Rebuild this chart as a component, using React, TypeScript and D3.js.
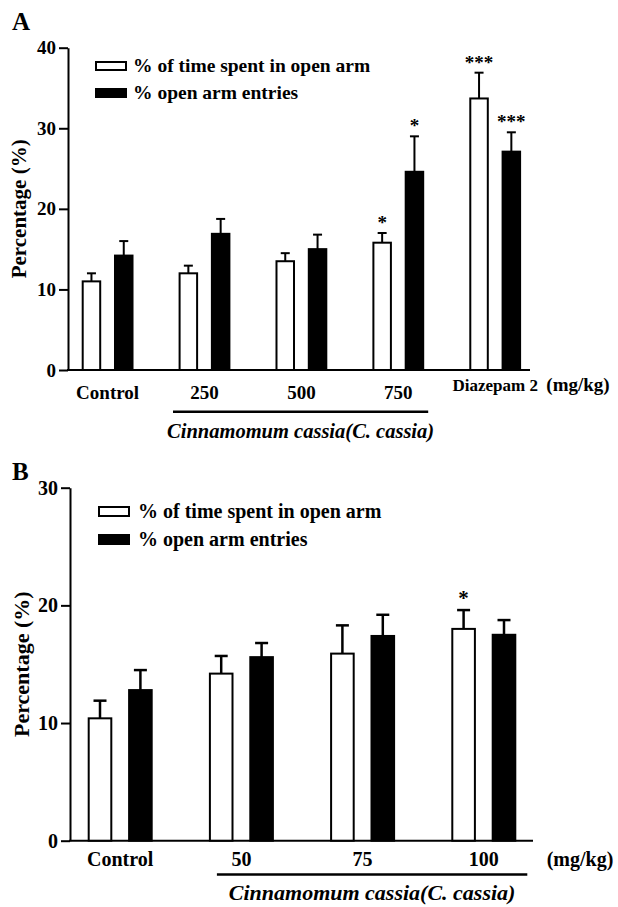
import React, { useRef, useEffect } from 'react'
import * as d3 from 'd3'

// panel A: Cinnamomum cassia doses + diazepam
const catsA = ['Control', '250', '500', '750', 'Diazepam 2']
const timeA = [11.0, 12.0, 13.5, 15.8, 33.7]
const timeErrA = [1.0, 0.95, 1.0, 1.2, 3.2]
const entriesA = [14.2, 16.9, 15.0, 24.6, 27.1]
const entriesErrA = [1.8, 1.85, 1.8, 4.4, 2.4]
const timeSigA = ['', '', '', '*', '***']
const entriesSigA = ['', '', '', '*', '***']
const ticksA = [0, 10, 20, 30, 40]

// panel B: lower doses
const catsB = ['Control', '50', '75', '100']
const timeB = [10.4, 14.2, 15.9, 18.0]
const timeErrB = [1.5, 1.5, 2.4, 1.6]
const entriesB = [12.8, 15.6, 17.4, 17.5]
const entriesErrB = [1.7, 1.2, 1.8, 1.25]
const timeSigB = ['', '', '', '*']
const entriesSigB = ['', '', '', '']
const ticksB = [0, 10, 20, 30]

const legendLabels = ['% of time spent in open arm', '% open arm entries']
const groupLabel = 'Cinnamomum cassia(C. cassia)'
const unitLabel = '(mg/kg)'
const yTitle = 'Percentage (%)'

const FONT = 'Liberation Serif, Tinos, Times New Roman, DejaVu Serif, serif'

const layoutA = {
  letter: 'A', letterY: 30,
  x0: 68, xEnd: 530, y0: 370, yTop: 47.7,
  firstBar: 81.7, lastBar: 521.1, pad: 0.396,
  tick: 9, tickFont: 19, cap: 9, errW: 2,
  labelY: 399, labelFont: 19, smallLabelY: 391, smallFont: 17,
  unitX: 578, unitY: 391,
  lineY: 411.7, lineL: -5.6, lineR: 4, groupTextY: 438, groupFont: 20.5,
  legX: 95, legY: [61, 88], legW: 32, legH: 10, legTextX: 133, legFont: 19.5,
  titleX: 19, titleFont: 21,
  starGap: 4, starFont: 19,
}

const layoutB = {
  letter: 'B', letterY: 480,
  x0: 70, xEnd: 533, y0: 840.7, yTop: 487.7,
  firstBar: 87.7, lastBar: 516.3, pad: 0.391,
  tick: 9, tickFont: 20, cap: 13, errW: 2.5,
  labelY: 866, labelFont: 20, smallLabelY: 866, smallFont: 20,
  unitX: 580, unitY: 866,
  lineY: 874.5, lineL: 8, lineR: 11, groupTextY: 900, groupFont: 22,
  legX: 98, legY: [506, 534], legW: 32, legH: 11, legTextX: 138, legFont: 20,
  titleX: 21, titleFont: 22,
  starGap: 5, starFont: 21,
}

function Panel({ cats, time, timeErr, entries, entriesErr, timeSig, entriesSig, ticks, L }) {
  const gRef = useRef(null)

  useEffect(() => {
    const g = d3.select(gRef.current)
    g.selectAll('*').remove()

    const y = d3.scaleLinear()
      .domain([0, ticks[ticks.length - 1]])
      .range([L.y0, L.yTop])

    const nSlots = cats.length * 3 - 1 // white, black, empty spacer
    const x = d3.scaleBand()
      .domain(d3.range(nSlots))
      .range([L.firstBar, L.lastBar])
      .paddingInner(L.pad)
      .paddingOuter(0)
    const bw = x.bandwidth()

    // y axis
    const yAxis = d3.axisLeft(y).tickValues(ticks).tickSize(L.tick).tickSizeOuter(0).tickPadding(3)
    const ax = g.append('g')
      .attr('transform', `translate(${L.x0},0)`)
      .call(yAxis)
    ax.attr('font-family', null).attr('font-size', null)
    ax.select('.domain').attr('stroke', '#000').attr('stroke-width', 2)
    ax.selectAll('.tick line').attr('stroke', '#000').attr('stroke-width', 2)
    ax.selectAll('.tick text')
      .style('font-family', FONT)
      .style('font-size', L.tickFont + 'px')
      .style('font-weight', 'bold')
      .attr('fill', '#000')

    // x baseline
    g.append('line')
      .attr('x1', L.x0 - 1).attr('x2', L.xEnd)
      .attr('y1', L.y0).attr('y2', L.y0)
      .attr('stroke', '#000').attr('stroke-width', 2)

    const series = [
      { vals: time, err: timeErr, sig: timeSig, fill: '#fff', k: 0 },
      { vals: entries, err: entriesErr, sig: entriesSig, fill: '#000', k: 1 },
    ]

    const txt = (sel, size, extra = {}) => sel
      .style('font-family', FONT)
      .style('font-size', size + 'px')
      .style('font-weight', 'bold')
      .style('font-style', extra.italic ? 'italic' : 'normal')

    series.forEach(s => {
      s.vals.forEach((v, i) => {
        const bx = x(3 * i + s.k)
        const cx = bx + bw / 2
        const top = y(v + s.err[i])
        g.append('line')
          .attr('x1', cx).attr('x2', cx)
          .attr('y1', y(v)).attr('y2', top)
          .attr('stroke', '#000').attr('stroke-width', L.errW)
        g.append('line')
          .attr('x1', cx - L.cap / 2).attr('x2', cx + L.cap / 2)
          .attr('y1', top).attr('y2', top)
          .attr('stroke', '#000').attr('stroke-width', L.errW)
        g.append('rect')
          .attr('x', bx + 1).attr('y', y(v))
          .attr('width', bw - 2).attr('height', L.y0 - y(v))
          .attr('fill', s.fill)
          .attr('stroke', '#000').attr('stroke-width', 2)
        if (s.sig[i]) {
          g.append('text')
            .attr('x', cx).attr('y', top - L.starGap)
            .attr('text-anchor', 'middle')
            .call(txt, L.starFont)
            .text(s.sig[i])
        }
      })
    })

    // category labels
    cats.forEach((c, i) => {
      const cx = (x(3 * i) + x(3 * i + 1) + bw) / 2
      const small = c.length > 7
      g.append('text')
        .attr('x', cx)
        .attr('y', small ? L.smallLabelY : L.labelY)
        .attr('text-anchor', 'middle')
        .call(txt, small ? L.smallFont : L.labelFont)
        .text(c)
    })

    g.append('text')
      .attr('x', L.unitX).attr('y', L.unitY)
      .attr('text-anchor', 'middle')
      .call(txt, L.labelFont)
      .text(unitLabel)

    // bracket line under the cassia doses (groups 1..3)
    const lx1 = x(3) + L.lineL
    const lx2 = x(3 * 3 + 1) + bw + L.lineR
    g.append('line')
      .attr('x1', lx1).attr('x2', lx2)
      .attr('y1', L.lineY).attr('y2', L.lineY)
      .attr('stroke', '#000').attr('stroke-width', 2.5)
    g.append('text')
      .attr('x', (lx1 + lx2) / 2).attr('y', L.groupTextY)
      .attr('text-anchor', 'middle')
      .call(txt, L.groupFont, { italic: true })
      .text(groupLabel)

    // legend
    const fills = ['#fff', '#000']
    legendLabels.forEach((lab, i) => {
      g.append('rect')
        .attr('x', L.legX + 1).attr('y', L.legY[i] + 1)
        .attr('width', L.legW - 2).attr('height', L.legH - 2)
        .attr('fill', fills[i])
        .attr('stroke', '#000').attr('stroke-width', 2)
      g.append('text')
        .attr('x', L.legTextX).attr('y', L.legY[i] + L.legH + 1)
        .call(txt, L.legFont)
        .text(lab)
    })

    // y title
    const midY = (L.y0 + L.yTop) / 2
    g.append('text')
      .attr('transform', `translate(${L.titleX},${midY}) rotate(-90)`)
      .attr('text-anchor', 'middle')
      .attr('dy', '0.35em')
      .call(txt, L.titleFont)
      .text(yTitle)

    // panel letter
    g.append('text')
      .attr('x', 12).attr('y', L.letterY)
      .call(txt, 25)
      .text(L.letter)
  }, [cats, time, timeErr, entries, entriesErr, timeSig, entriesSig, ticks, L])

  return <g ref={gRef} />
}

export default function App() {
  return (
    <svg width="618" height="907" style={{ position: 'absolute', left: 0, top: 0, background: '#fff' }}>
      <rect width="618" height="907" fill="#fff" />
      <Panel cats={catsA} time={timeA} timeErr={timeErrA} entries={entriesA} entriesErr={entriesErrA}
        timeSig={timeSigA} entriesSig={entriesSigA} ticks={ticksA} L={layoutA} />
      <Panel cats={catsB} time={timeB} timeErr={timeErrB} entries={entriesB} entriesErr={entriesErrB}
        timeSig={timeSigB} entriesSig={entriesSigB} ticks={ticksB} L={layoutB} />
    </svg>
  )
}
